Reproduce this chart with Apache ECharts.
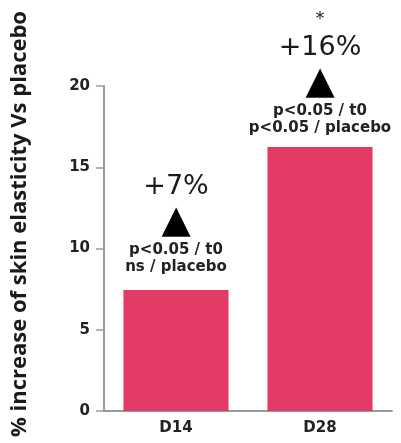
<!DOCTYPE html>
<html><head><meta charset="utf-8">
<script src="https://cdn.jsdelivr.net/npm/echarts@6/dist/echarts.min.js"></script>
<style>html,body{margin:0;padding:0;background:#fff}#c{width:401px;height:443px}</style>
</head><body><div id="c"></div>
<script>
var categories = ['D14', 'D28'];
var values = [7.45, 16.25];
var pctLabels = ['+7%', '+16%'];
var stars = ['', '*'];
var statLine1 = ['p<0.05 / t0', 'p<0.05 / t0'];
var statLine2 = ['ns / placebo', 'p<0.05 / placebo'];
var yTicks = [0, 5, 10, 15, 20];
var yTitle = '% increase of skin elasticity Vs placebo';

var chart = echarts.init(document.getElementById('c'));
var data = values.map(function (v, i) {
  var lines = [];
  if (stars[i]) lines.push('{s|' + stars[i] + '}');
  lines.push('{p|' + pctLabels[i] + '}');
  lines.push('{t|▲}');
  lines.push('{l|' + statLine1[i] + '}');
  lines.push('{l|' + statLine2[i] + '}');
  return { value: v, label: { formatter: lines.join('\n'), distance: i === 0 ? 14 : 10 } };
});
chart.setOption({
  animation: false,
  grid: { left: 104, right: 9, top: 86, bottom: 32 },
  xAxis: {
    type: 'category', data: categories,
    axisLine: { lineStyle: { color: '#9a9a9a', width: 2 } },
    axisTick: { show: false },
    axisLabel: { color: '#222', fontWeight: 'bold', fontSize: 15, fontFamily: 'DejaVu Sans', margin: 10 }
  },
  yAxis: {
    type: 'value', min: yTicks[0], max: yTicks[yTicks.length - 1], interval: 5,
    axisLine: { show: true, lineStyle: { color: '#9a9a9a', width: 2 } },
    axisTick: { show: true, length: 8, lineStyle: { color: '#9a9a9a', width: 1.5 } },
    splitLine: { show: false },
    axisLabel: { color: '#222', fontWeight: 'bold', fontSize: 15, fontFamily: 'DejaVu Sans', margin: 14 }
  },
  graphic: [{
    type: 'text', x: 20, y: 224, rotation: Math.PI / 2,
    style: { text: yTitle, fill: '#1a1a1a', font: 'bold 22px "Open Sans"', align: 'center', verticalAlign: 'middle' }
  }],
  series: [{
    type: 'bar', data: data, barWidth: '73%',
    itemStyle: { color: '#e33a66' },
    label: {
      show: true, position: 'top', align: 'center',
      rich: {
        s: { fontSize: 18, lineHeight: 28, color: '#222', fontFamily: 'DejaVu Sans' },
        p: { fontSize: 27, lineHeight: 30, color: '#1a1a1a', fontFamily: 'DejaVu Sans' },
        t: { fontSize: 38, lineHeight: 40, color: '#000', fontFamily: 'DejaVu Sans' },
        l: { fontSize: 15, lineHeight: 17, color: '#222', fontWeight: 'bold', fontFamily: 'DejaVu Sans' }
      }
    }
  }]
});
</script></body></html>
